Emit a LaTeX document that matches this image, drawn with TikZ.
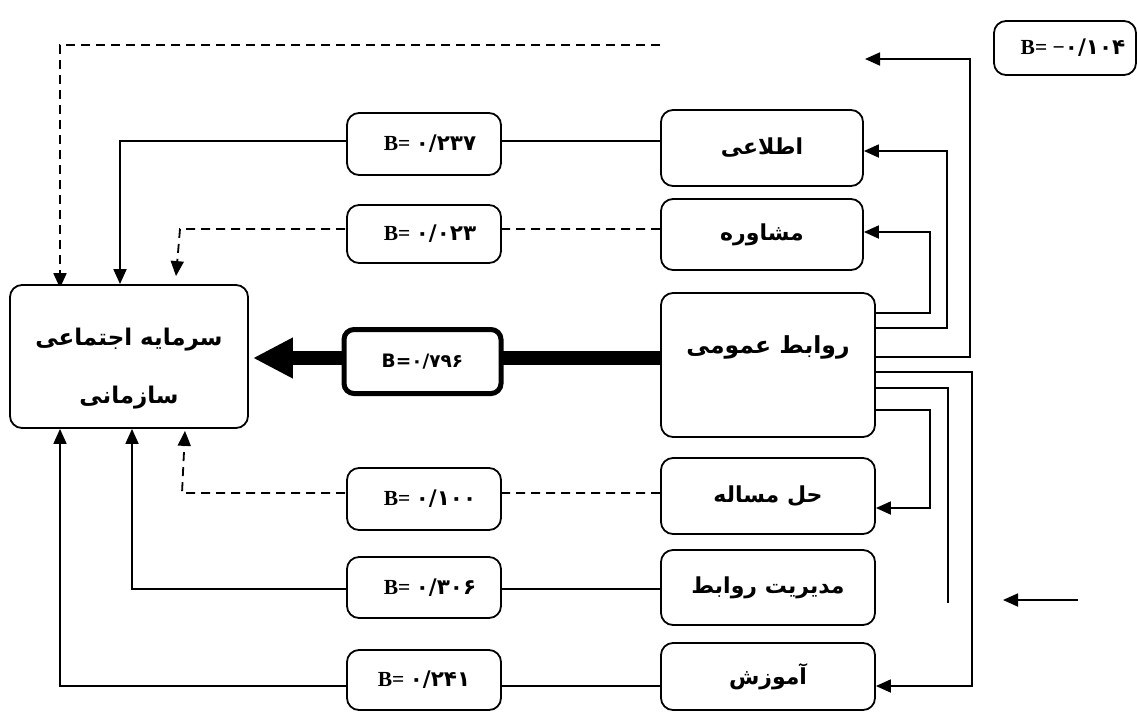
\documentclass[tikz,border=0pt]{standalone}
\usepackage{fontspec}
\setmainfont{Liberation Serif}
\newfontfamily\fa[Script=Arabic]{DejaVu Sans}
\TeXXeTstate=1
\usetikzlibrary{arrows.meta,backgrounds}
\newcommand\pers[1]{{\fa\bfseries\beginR #1\endR}}
\newcommand\bval[1]{{\bfseries B= {\fa\bfseries #1}}}
\begin{document}
\begin{tikzpicture}[x=1pt,y=-1pt,
  box/.style={draw, line width=1.8pt, rounded corners=12pt, fill=white, inner sep=0pt, align=center},
  bbox/.style={box, minimum width=154pt, minimum height=62pt, font=\fontsize{21.5}{24}\selectfont},
  rbox/.style={box, font=\fontsize{22}{26}\selectfont},
  conn/.style={line width=1.8pt},
  arr/.style={-{Triangle[length=15pt,width=13pt]}},
  dsh/.style={dash pattern=on 9pt off 6pt}]
\useasboundingbox (0,0) rectangle (1137,712);

% left target
\node[box, minimum width=238pt, minimum height=143pt, font=\fontsize{23}{58}\selectfont] (sz) at (129,356.5)
  {\rule{0pt}{41pt}\pers{سرمایه اجتماعی}\\\pers{سازمانی}};

% right boxes
\node[rbox, minimum width=202pt, minimum height=76pt] (info) at (762,148) {\pers{اطلاعی}};
\node[rbox, minimum width=202pt, minimum height=71pt] (mosh) at (762,234.5) {\pers{مشاوره}};
\node[box, minimum width=214pt, minimum height=144pt, font=\fontsize{23.5}{28}\selectfont] (rel) at (768,365)
  {\raisebox{12pt}[0pt][0pt]{\pers{روابط عمومی}}};
\node[rbox, minimum width=214pt, minimum height=76pt] (hal) at (768,496) {\pers{حل مساله}};
\node[rbox, minimum width=214pt, minimum height=75pt] (mod) at (768,587.5) {\pers{مدیریت روابط}};
\node[rbox, minimum width=214pt, minimum height=67pt] (amo) at (768,676.5) {\pers{آموزش}};

% B boxes
\node[bbox] (b1) at (424,144) {\hspace{12pt}\bval{۰/۲۳۷}};
\node[bbox, minimum height=58pt] (b2) at (424,234) {\hspace{12pt}\bval{۰/۰۲۳}};
\node[bbox] (b3) at (424,499) {\hspace{12pt}\bval{۰/۱۰۰}};
\node[bbox, minimum height=61pt] (b4) at (424,587.5) {\hspace{12pt}\bval{۰/۳۰۶}};
\node[bbox, minimum height=60pt] (b5) at (424,680) {\bval{۰/۲۴۱}};
\node[box, line width=5pt, rounded corners=10pt, minimum width=157pt, minimum height=64pt,
  font=\fontsize{18.5}{22}\selectfont] (bm) at (422.5,361.5) {{\fa\bfseries B=۰/۷۹۶}};
\node[box, minimum width=142pt, minimum height=54pt, font=\fontsize{21.5}{24}\selectfont] (btop) at (1065,48)
  {\hspace{16pt}{\bfseries B= −{\fa\bfseries ۰/۱۰۴}}};

% free ends
\coordinate (dstart) at (660,45);
\coordinate (topend) at (865,59);
\coordinate (stub) at (948,603);
\coordinate (fa1) at (1078,600);
\coordinate (fa2) at (1003,600);

\begin{scope}[on background layer]
% to the left box
\draw[conn,dsh,arr] (dstart) -- (60,45) -- ([xshift=-69pt,yshift=-4pt]sz.north);
\draw[conn,arr] ([yshift=7pt]info.west) -| ([xshift=-9pt]sz.north);
\draw[conn,dsh,arr] ([yshift=5.5pt]mosh.west) -- (180,229) -- ([xshift=47pt,yshift=8pt]sz.north);
\draw[conn,dsh,arr] ([yshift=3pt]hal.west) -- (182,493) -- ([xshift=56pt,yshift=-2pt]sz.south);
\draw[conn,arr] ([yshift=-1.5pt]mod.west) -| ([xshift=3pt]sz.south);
\draw[conn,arr] ([yshift=-9.5pt]amo.west) -| ([xshift=-69pt]sz.south);
% main thick arrow
\draw[line width=14pt,-{Triangle[length=40pt,width=38pt]}] ([yshift=7pt]rel.west) -- ([yshift=-1.5pt,xshift=4pt]sz.east);
% from relations box to the right boxes
\draw[conn,arr] ([yshift=52pt]rel.east) -| (930,232) -- ([yshift=2.5pt]mosh.east);
\draw[conn,arr] ([yshift=37pt]rel.east) -| (947,151) -- ([yshift=-3pt]info.east);
\draw[conn,arr] ([yshift=8pt]rel.east) -| (970,59) -- (topend);
\draw[conn,arr] ([yshift=-7pt]rel.east) -| (972,686) -- ([yshift=-9.5pt]amo.east);
\draw[conn] ([yshift=-23pt]rel.east) -| (stub);
\draw[conn,arr] ([yshift=-45pt]rel.east) -| (930,508) -- ([yshift=-12pt]hal.east);
\draw[conn,arr] (fa1) -- (fa2);
\end{scope}
\end{tikzpicture}
\end{document}
